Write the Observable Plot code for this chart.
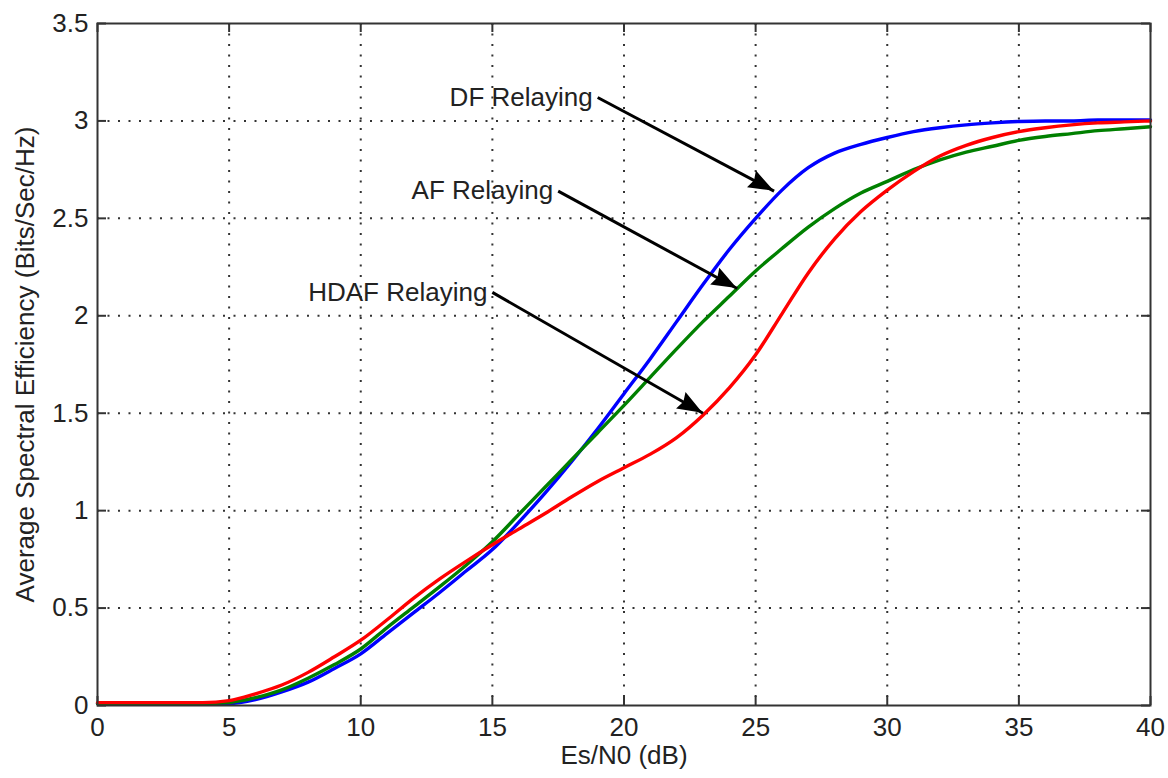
<!DOCTYPE html>
<html>
<head>
<meta charset="utf-8">
<script src="https://cdn.jsdelivr.net/npm/d3@7"></script>
<script src="https://cdn.jsdelivr.net/npm/@observablehq/plot@0.6"></script>
<style>
  html, body { margin: 0; padding: 0; background: #fff; }
  #chart { width: 1168px; height: 778px; }
</style>
</head>
<body>
<div id="chart"></div>
<script>
// ---- Data ----
const snr = [0,1,2,3,4,5,6,7,8,9,10,11,12,13,14,15,16,17,18,19,20,21,22,23,24,25,26,27,28,29,30,31,32,33,34,35,36,37,38,39,40];
const dfRelaying = [0.01,0.01,0.01,0.01,0.01,0.01,0.03,0.07,0.12,0.19,0.265,0.37,0.475,0.58,0.69,0.80,0.94,1.09,1.25,1.42,1.60,1.78,1.97,2.16,2.34,2.50,2.645,2.76,2.835,2.88,2.915,2.945,2.965,2.98,2.99,2.997,3.0,3.0,3.005,3.005,3.005];
const afRelaying = [0.01,0.01,0.01,0.01,0.01,0.015,0.04,0.08,0.14,0.21,0.29,0.40,0.505,0.61,0.72,0.84,0.98,1.12,1.26,1.40,1.54,1.685,1.83,1.97,2.10,2.23,2.345,2.455,2.55,2.63,2.69,2.75,2.80,2.84,2.87,2.90,2.92,2.935,2.95,2.96,2.97];
const hdafRelaying = [0.015,0.015,0.015,0.015,0.015,0.025,0.06,0.105,0.17,0.25,0.335,0.44,0.55,0.65,0.74,0.825,0.905,0.985,1.07,1.15,1.22,1.29,1.375,1.49,1.63,1.80,2.01,2.22,2.395,2.535,2.645,2.74,2.82,2.875,2.915,2.945,2.965,2.98,2.99,2.995,3.0];

const xTicks = [0,5,10,15,20,25,30,35,40];
const yTicks = [0,0.5,1,1.5,2,2.5,3,3.5];

const annLabels = ["DF Relaying", "AF Relaying", "HDAF Relaying"];
const annX1 = [19.0, 17.5, 15.0];
const annY1 = [3.12, 2.64, 2.12];
const annX2 = [25.7, 24.3, 23.0];
const annY2 = [2.64, 2.14, 1.50];

const xLabel = "Es/N0 (dB)";
const yLabel = "Average Spectral Efficiency (Bits/Sec/Hz)";

// ---- Build tables ----
const series = [
  {name: "DF", values: dfRelaying, color: "#0000ff"},
  {name: "AF", values: afRelaying, color: "#008000"},
  {name: "HDAF", values: hdafRelaying, color: "#ff0000"}
];
const rows = series.flatMap(s => snr.map((x, i) => ({x, y: s.values[i], name: s.name})));
const ann = annLabels.map((t, i) => ({t, x1: annX1[i], y1: annY1[i], x2: annX2[i], y2: annY2[i]}));

const W = 1168, H = 778;
const mL = 97, mR = 18, mT = 23, mB = 73;
const fw = W - mL - mR, fh = H - mT - mB;
const tickLen = 9;
const font = "'Liberation Sans', Arial, Helvetica, sans-serif";
const axisColor = "#333";

const chart = Plot.plot({
  width: W,
  height: H,
  marginLeft: mL, marginRight: mR, marginTop: mT, marginBottom: mB,
  style: {fontFamily: font, fontSize: "26px", color: "#222", background: "#fff", overflow: "visible"},
  x: {domain: [0, 40]},
  y: {domain: [0, 3.5]},
  color: {domain: series.map(s => s.name), range: series.map(s => s.color)},
  marks: [
    Plot.gridX(xTicks.slice(1, -1), {stroke: "#333", strokeOpacity: 1, strokeWidth: 2, strokeDasharray: "2,8.5"}),
    Plot.gridY(yTicks.slice(1, -1), {stroke: "#333", strokeOpacity: 1, strokeWidth: 2, strokeDasharray: "2,8.5"}),
    Plot.tickX(xTicks, {x: d => d, stroke: axisColor, strokeWidth: 2, insetTop: fh - tickLen}),
    Plot.tickX(xTicks, {x: d => d, stroke: axisColor, strokeWidth: 2, insetBottom: fh - tickLen}),
    Plot.tickY(yTicks, {y: d => d, stroke: axisColor, strokeWidth: 2, insetRight: fw - tickLen}),
    Plot.tickY(yTicks, {y: d => d, stroke: axisColor, strokeWidth: 2, insetLeft: fw - tickLen}),
    Plot.axisX({ticks: xTicks, tickSize: 0, tickPadding: 12, label: null, tickFormat: d => String(d), fontSize: 26}),
    Plot.axisY({ticks: yTicks, tickSize: 0, tickPadding: 9, label: null, tickFormat: d => String(d), fontSize: 26}),
    Plot.line(rows, {x: "x", y: "y", z: "name", stroke: "name", strokeWidth: 3.4, curve: "monotone-x"}),
    Plot.frame({stroke: axisColor, strokeWidth: 2}),
    Plot.link(ann, {x1: "x1", y1: "y1", x2: "x2", y2: "y2", stroke: "#000", strokeWidth: 3, strokeLinecap: "butt"}),
    Plot.text(ann, {x: "x1", y: "y1", text: "t", textAnchor: "end", lineAnchor: "middle", dx: -5, fontSize: 26, fill: "#222"}),
    Plot.text([xLabel], {frameAnchor: "bottom", textAnchor: "middle", lineAnchor: "middle", dy: 50, fontSize: 26, fill: "#222"}),
    Plot.text([yLabel], {frameAnchor: "left", textAnchor: "middle", lineAnchor: "middle", rotate: -90, dx: -72, fontSize: 26, fill: "#222"})
  ]
});

document.getElementById("chart").appendChild(chart);

// ---- Filled arrowheads, positioned with the plot's own scales ----
(function () {
  const sx = chart.scale("x"), sy = chart.scale("y");
  const fx = typeof sx.apply === "function" ? v => sx.apply(v) : d3.scaleLinear(sx.domain, sx.range);
  const fy = typeof sy.apply === "function" ? v => sy.apply(v) : d3.scaleLinear(sy.domain, sy.range);
  const headLen = 25, headHalf = 9.5;
  const g = d3.select(chart).append("g").attr("fill", "#000");
  ann.forEach(a => {
    const x1 = fx(a.x1), y1 = fy(a.y1), x2 = fx(a.x2), y2 = fy(a.y2);
    const dx = x2 - x1, dy = y2 - y1, len = Math.hypot(dx, dy);
    const ux = dx / len, uy = dy / len, nx = -uy, ny = ux;
    const bx = x2 - ux * headLen, by = y2 - uy * headLen;
    g.append("polygon").attr("points", [
      [x2, y2], [bx + nx * headHalf, by + ny * headHalf], [bx + ux * 3, by + uy * 3], [bx - nx * headHalf, by - ny * headHalf]
    ].map(p => p.join(",")).join(" "));
  });
})();
</script>
</body>
</html>
